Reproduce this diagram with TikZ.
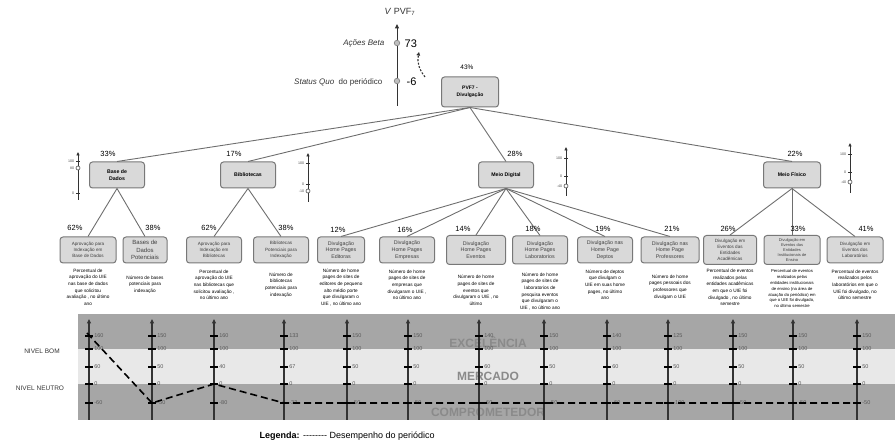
\documentclass[tikz,border=0pt]{standalone}
\usepackage{fontspec}
\setmainfont{Liberation Sans}
\usetikzlibrary{arrows.meta,positioning}

\definecolor{boxfill}{RGB}{217,217,217}
\definecolor{boxline}{RGB}{120,120,120}
\definecolor{banddark}{RGB}{166,166,166}
\definecolor{bandlight}{RGB}{232,232,232}
\definecolor{bandtext}{RGB}{138,138,138}
\definecolor{linkgray}{RGB}{110,110,110}

\tikzset{every picture/.style={line width=0.75pt}}
\tikzset{
  critbox/.style={draw=boxline, fill=boxfill, rounded corners=3pt, line width=1pt, align=center, inner sep=1pt},
  rootbox/.style={critbox, font=\fontsize{5}{6.5}\selectfont\bfseries, minimum width=57pt, minimum height=30pt},
  topbox/.style={critbox, font=\fontsize{5.2}{6.7}\selectfont\bfseries, minimum width=55pt, minimum height=26pt},
  subbox/.style={critbox, font=\fontsize{4.6}{6.2}\selectfont, text=black!75, minimum width=55pt, minimum height=26pt},
  desc/.style={font=\fontsize{4.7}{6.6}\selectfont, align=center, inner sep=0pt, anchor=north},
  pct/.style={font=\fontsize{7.5}{8}\selectfont, inner sep=0.75pt},
  link/.style={draw=linkgray, line width=0.9pt},
  axisline/.style={draw=black!80, line width=1.3pt, -{Triangle[width=4pt,length=4.5pt]}},
  minitick/.style={draw=black!80, line width=0.8pt},
  minilbl/.style={font=\fontsize{3.6}{4}\selectfont, text=black!70, inner sep=0.5pt, anchor=east},
  minimark/.style={circle, draw=black!70, fill=white, line width=0.6pt, minimum size=4pt, inner sep=0pt},
  ball/.style={circle, draw=black!45, fill=black!25, minimum size=5.5pt, inner sep=0pt},
  scaletick/.style={draw=black, line width=1.3pt},
  scalelbl/.style={font=\fontsize{5.5}{6}\selectfont, text=black!65, inner sep=0.5pt, anchor=west},
  bandlbl/.style={font=\fontsize{12}{13}\selectfont\bfseries, text=bandtext},
  perf/.style={draw=black, line width=1.6pt, dash pattern=on 7pt off 4pt}
}

\begin{document}
\begin{tikzpicture}[x=1pt,y=1pt,yscale=-1,xscale=1]
    \useasboundingbox (0,0) rectangle (895,446);

    %Shape: bands of the scale area
    \fill[banddark] (78,314) rectangle (895,349);
    \fill[bandlight] (78,349) rectangle (895,384);
    \fill[banddark] (78,384) rectangle (895,420);

    % Text Node
    \node[bandlbl] (exc) at (488,342) {EXCELÊNCIA};
    \node[bandlbl] (merc) at (488,376) {MERCADO};
    \node[bandlbl] (comp) at (488,412) {COMPROMETEDOR};
    \node[font=\fontsize{6.5}{7}\selectfont, text=black!80] (bom) at (42,351) {NIVEL BOM};
    \node[font=\fontsize{6.5}{7}\selectfont, text=black!80] (neutro) at (40,388) {NIVEL NEUTRO};

    %Top axis V PVF7
    \node[font=\fontsize{9}{10}\selectfont, text=black!80] (ttl) at (400,12) {\textit{V} PVF\textsubscript{7}};
    \coordinate (vb) at (397,106);
    \coordinate (vt) at (397,24);
    \draw[axisline, line width=1pt] (vb) -- (vt);
    \node[ball] (beta) at (397,43) {};
    \node[ball] (sq) at (397,81) {};
    \node[anchor=east, font=\fontsize{8}{9}\selectfont\itshape, text=black!80] (betalbl) at (388,43) {Ações Beta};
    \node[anchor=east, font=\fontsize{8}{9}\selectfont, text=black!80] (sqlbl) at (386,82) {\textit{Status Quo}\ \ do periódico};
    \node[anchor=west, font=\fontsize{11}{12}\selectfont] (betaval) at (401,44) {73};
    \node[anchor=west, font=\fontsize{11}{12}\selectfont] (sqval) at (403,82) {-6};
    \coordinate (ca) at (425,77);
    \coordinate (cb) at (419,52);
    \draw[black!80, line width=1.1pt, dash pattern=on 2pt off 1.5pt, -{Triangle[width=3.5pt,length=3.5pt]}] (ca) to[bend right=25] (cb);

    %Root
    \node[rootbox] (root) at (470,92) {PVF7 -\\Divulgação};
    \node[pct, font=\fontsize{6.5}{7}\selectfont] (proot) at (467,67) {43\%};

    %Level 1
    \node[topbox] (bd) at (117,175) {Base de\\Dados};
    \node[topbox] (bib) at (248,175) {Bibliotecas};
    \node[topbox] (md) at (506,175) {Meio Digital};
    \node[topbox, minimum width=57pt] (mf) at (792,175) {Meio Físico};
    \node[pct] (pbd) at (108,154) {33\%};
    \node[pct] (pbib) at (234,154) {17\%};
    \node[pct] (pmd) at (515,154) {28\%};
    \node[pct] (pmf) at (795,154) {22\%};

    \draw[link] (root.south) -- (bd.north);
    \draw[link] (root.south) -- (bib.north);
    \draw[link] (root.south) -- (md.north);
    \draw[link] (root.south) -- (mf.north);

    %Mini scales of level 1
    \coordinate (ma1) at (78,200); \coordinate (mb1) at (78,152);
    \draw[axisline, line width=0.8pt, -{Triangle[width=3pt,length=3.5pt]}] (ma1) -- (mb1);
    \draw[minitick] (76,161) -- (80,161); \node[minilbl] (m1a) at (75,161) {100};
    \draw[minitick] (76,168) -- (80,168); \node[minilbl] (m1b) at (75,168) {80};
    \draw[minitick] (76,193) -- (80,193); \node[minilbl] (m1c) at (75,193) {0};
    \node[minimark] (mk1) at (78,168) {};

    \coordinate (ma2) at (308,202); \coordinate (mb2) at (308,153);
    \draw[axisline, line width=0.8pt, -{Triangle[width=3pt,length=3.5pt]}] (ma2) -- (mb2);
    \draw[minitick] (306,163) -- (310,163); \node[minilbl] (m2a) at (305,163) {100};
    \draw[minitick] (306,184) -- (310,184); \node[minilbl] (m2b) at (305,184) {0};
    \node[minilbl] (m2c) at (305,191) {-10};
    \node[minimark] (mk2) at (308,191) {};

    \coordinate (ma3) at (566,196); \coordinate (mb3) at (566,147);
    \draw[axisline, line width=0.8pt, -{Triangle[width=3pt,length=3.5pt]}] (ma3) -- (mb3);
    \draw[minitick] (564,158) -- (568,158); \node[minilbl] (m3a) at (563,158) {100};
    \draw[minitick] (564,176) -- (568,176); \node[minilbl] (m3b) at (563,176) {0};
    \node[minilbl] (m3c) at (563,186) {-40};
    \node[minimark] (mk3) at (566,186) {};

    \coordinate (ma4) at (850,193); \coordinate (mb4) at (850,143);
    \draw[axisline, line width=0.8pt, -{Triangle[width=3pt,length=3.5pt]}] (ma4) -- (mb4);
    \draw[minitick] (848,154) -- (852,154); \node[minilbl] (m4a) at (847,154) {100};
    \draw[minitick] (848,172) -- (852,172); \node[minilbl] (m4b) at (847,172) {0};
    \node[minilbl] (m4c) at (847,182) {-40};
    \node[minimark] (mk4) at (850,182) {};

    %Level 2
    \node[subbox, minimum width=56pt] (c1) at (88,250) {Aprovação para\\Indexação em\\Base de Dados};
    \node[subbox, minimum width=44pt, font=\fontsize{6}{7.5}\selectfont] (c2) at (145,250) {Bases de\\Dados\\Potenciais};
    \node[subbox] (c3) at (214,250) {Aprovação para\\Indexação em\\Bibliotecas};
    \node[subbox] (c4) at (281,250) {Bibliotecas\\Potenciais para\\Indexação};
    \node[subbox, minimum width=47pt, font=\fontsize{5.3}{6.8}\selectfont] (c5) at (341,250) {Divulgação\\Home Pages\\Editoras};
    \node[subbox, font=\fontsize{5.3}{6.8}\selectfont] (c6) at (407,250) {Divulgação\\Home Pages\\Empresas};
    \node[subbox, minimum width=59pt, minimum height=29pt, font=\fontsize{5.3}{6.8}\selectfont] (c7) at (476,250) {Divulgação\\Home Pages\\Eventos};
    \node[subbox, minimum height=28pt, font=\fontsize{5.3}{6.8}\selectfont] (c8) at (540,250) {Divulgação\\Home Pages\\Laboratorios};
    \node[subbox, font=\fontsize{5.3}{6.8}\selectfont] (c9) at (605,250) {Divulgação nas\\Home Page\\Deptos};
    \node[subbox, minimum width=58pt, font=\fontsize{5.3}{6.8}\selectfont] (c10) at (670,250) {Divulgação nas\\Home Page\\Professores};
    \node[subbox, minimum width=53pt, minimum height=29pt, font=\fontsize{4.6}{5.8}\selectfont] (c11) at (730,250) {Divulgação em\\Eventos das\\Entidades\\Acadêmicas};
    \node[subbox, minimum width=56pt, minimum height=29pt, font=\fontsize{4}{5}\selectfont] (c12) at (792,250) {Divulgação em\\Eventos das\\Entidades\\Institucionais de\\Ensino};
    \node[subbox, minimum width=56pt] (c13) at (855,250) {Divulgação em\\Eventos dos\\Laboratórios};

    \draw[link] (bd.south) -- (c1.north);
    \draw[link] (bd.south) -- (c2.north);
    \draw[link] (bib.south) -- (c3.north);
    \draw[link] (bib.south) -- (c4.north);
    \draw[link] (md.south) -- (c5.north);
    \draw[link] (md.south) -- (c6.north);
    \draw[link] (md.south) -- (c7.north);
    \draw[link] (md.south) -- (c8.north);
    \draw[link] (md.south) -- (c9.north);
    \draw[link] (md.south) -- (c10.north);
    \draw[link] (mf.south) -- (c11.north);
    \draw[link] (mf.south) -- (c12.north);
    \draw[link] (mf.south) -- (c13.north);

    % Text Node
    \node[pct] (p1) at (75,228) {62\%};
    \node[pct] (p2) at (153,228) {38\%};
    \node[pct] (p3) at (209,228) {62\%};
    \node[pct] (p4) at (286,228) {38\%};
    \node[pct] (p5) at (338,230) {12\%};
    \node[pct] (p6) at (405,230) {16\%};
    \node[pct] (p7) at (463,229) {14\%};
    \node[pct] (p8) at (533,229) {18\%};
    \node[pct] (p9) at (603,229) {19\%};
    \node[pct] (p10) at (672,229) {21\%};
    \node[pct] (p11) at (728,229) {26\%};
    \node[pct] (p12) at (798,229) {33\%};
    \node[pct] (p13) at (866,229) {41\%};

    % Text Node
    \node[desc, below=5pt of c1] (d1) {Percentual de\\aprovação do UIE\\nas base de dados\\que solicitou\\avaliação , no último\\ano};
    \node[desc, below=12pt of c2] (d2) {Número de bases\\potenciais para\\indexação};
    \node[desc, below=6pt of c3] (d3) {Percentual de\\aprovação do UIE\\nas bibliotecas que\\solicitou avaliação ,\\no último ano};
    \node[desc, below=9pt of c4] (d4) {Número de\\bibliotecas\\potenciais para\\indexação};
    \node[desc, below=5pt of c5] (d5) {Número de home\\pages de sites de\\editores de pequeno\\alto médio porte\\que divulgaram o\\UIE , no último ano};
    \node[desc, below=6pt of c6] (d6) {Número de home\\pages de sites de\\empresas que\\divulgaram o UIE ,\\no último ano};
    \node[desc, below=10pt of c7] (d7) {Número de home\\pages de sites de\\eventos que\\divulgaram o UIE , no\\último};
    \node[desc, below=8pt of c8] (d8) {Número de home\\pages de sites de\\laboratorios de\\pesquisa eventos\\que divulgaram o\\UIE , no último ano};
    \node[desc, below=6pt of c9] (d9) {Número de deptos\\que divulgam o\\UIE em suas home\\pages, no último\\ano};
    \node[desc, below=11pt of c10] (d10) {Número de home\\pages pessoais dos\\professores que\\divulgam o UIE};
    \node[desc, below=4pt of c11] (d11) {Percentual de eventos\\realizados pelas\\entidades acadêmicas\\em que o UIE foi\\divulgado , no último\\semestre};
    \node[desc, below=4pt of c12, font=\fontsize{4.2}{5.9}\selectfont] (d12) {Percentual de eventos\\realizados pelas\\entidades institucionais\\de ensino (na área de\\atuação do periódico) em\\que o UIE foi divulgado,\\no último semestre};
    \node[desc, below=6pt of c13] (d13) {Percentual de eventos\\realizados pelos\\laboratórios em que o\\UIE foi divulgado, no\\último semestre};

    %Scales of the indicators
    \foreach \i/\sx/\ta/\tb/\tc in {1/89/160/60/-60, 2/152/150/50/-50, 3/214/160/40/-80, 4/284/133/67/-33, 5/347/150/50/-50, 6/408/150/50/-50, 7/479/140/60/-60, 8/544/150/50/-50, 9/607/140/60/-60, 10/668/125/50/-100, 11/733/150/50/-50, 12/793/150/50/-50, 13/857/150/50/-50} {
      \coordinate (s\i) at (\sx,420);
      \coordinate (s\i tip) at (\sx,319);
      \draw[axisline] (s\i) -- (s\i tip);
      \foreach \ty/\tl in {336/\ta, 349/100, 367/\tb, 384/0, 403/\tc} {
        \draw[scaletick] (\sx-4,\ty) -- (\sx+4,\ty);
        \node[scalelbl] (s\i l\ty) at (\sx+4.5,\ty) {\tl};
      }
    }

    %Performance line
    \coordinate (v1) at (87,333);
    \coordinate (v2) at (152,403);
    \coordinate (v3) at (214,384);
    \coordinate (v4) at (284,403);
    \coordinate (v13) at (857,403);
    \draw[perf] (v1) -- (v2) -- (v3) -- (v4) -- (v13);

    % Text Node
    \node[anchor=west, font=\fontsize{9}{10}\selectfont] (legend) at (256,436) {\textbf{Legenda:} -{}-{}-{}-{}-{}-{}-{}- Desempenho do periódico};

\end{tikzpicture}
\end{document}
